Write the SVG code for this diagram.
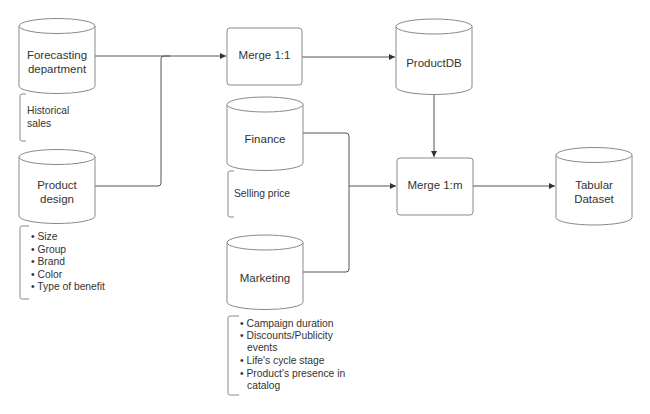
<svg xmlns="http://www.w3.org/2000/svg" width="650" height="414" viewBox="0 0 650 414">
<defs>
<style>
.shape{fill:#ffffff;stroke:#8a8a8a;stroke-width:1}
.br{fill:none;stroke:#8a8a8a;stroke-width:1}
.conn{fill:none;stroke:#555555;stroke-width:1}
.lbl{font-family:"Liberation Sans",Arial,sans-serif;font-size:11.5px;fill:#333333;text-anchor:middle}
.note{font-family:"Liberation Sans",Arial,sans-serif;font-size:10.3px;fill:#333333}
</style>
<marker id="arr" viewBox="0 0 10 10" refX="10" refY="5" markerWidth="8" markerHeight="6" markerUnits="userSpaceOnUse" orient="auto">
<path d="M0,0 L10,5 L0,10 Z" fill="#333333"/>
</marker>
</defs>
<rect width="650" height="414" fill="#ffffff"/>

<g id="connectors">
<path class="conn" d="M95,56 H226" marker-end="url(#arr)"/>
<path class="conn" d="M95,186 H158 Q161,186 161,183 V59 Q161,56 164,56 H170"/>
<path class="conn" d="M302,57 H395" marker-end="url(#arr)"/>
<path class="conn" d="M434,94 V157" marker-end="url(#arr)"/>
<path class="conn" d="M303,133 H346 Q349,133 349,136 V186"/>
<path class="conn" d="M303,272 H346 Q349,272 349,269 V186"/>
<path class="conn" d="M349,186 H396" marker-end="url(#arr)"/>
<path class="conn" d="M473,186 H555" marker-end="url(#arr)"/>
</g>

<g id="forecasting">
<path class="shape" d="M19,26 A38,7.5 0 0 1 95,26 V86 A38,7.5 0 0 1 19,86 Z"/>
<path class="shape" d="M19,26 A38,7.5 0 0 0 95,26" fill="none"/>
<text class="lbl" x="57" y="59">Forecasting</text>
<text class="lbl" x="57" y="73">department</text>
</g>

<g id="historical-note">
<path class="br" d="M26,94 H22 Q20,94 20,96 V139 Q20,141 22,141 H26"/>
<text class="note" x="27" y="114">Historical</text>
<text class="note" x="27" y="127">sales</text>
</g>

<g id="product-design">
<path class="shape" d="M19,157 A38,7.5 0 0 1 95,157 V216 A38,7.5 0 0 1 19,216 Z"/>
<path class="shape" d="M19,157 A38,7.5 0 0 0 95,157" fill="none"/>
<text class="lbl" x="57" y="189">Product</text>
<text class="lbl" x="57" y="203">design</text>
</g>

<g id="product-note">
<path class="br" d="M29,226 H22 Q20,226 20,228 V297 Q20,299 22,299 H29"/>
<text class="note" x="31" y="240">• Size</text>
<text class="note" x="31" y="252.5">• Group</text>
<text class="note" x="31" y="265">• Brand</text>
<text class="note" x="31" y="277.5">• Color</text>
<text class="note" x="31" y="290">• Type of benefit</text>
</g>

<g id="merge11">
<rect class="shape" x="227" y="28" width="75" height="57" rx="3"/>
<text class="lbl" x="264.5" y="59">Merge 1:1</text>
</g>

<g id="finance">
<path class="shape" d="M227,104.5 A38,7.5 0 0 1 303,104.5 V163 A38,7.5 0 0 1 227,163 Z"/>
<path class="shape" d="M227,104.5 A38,7.5 0 0 0 303,104.5" fill="none"/>
<text class="lbl" x="265" y="143">Finance</text>
</g>

<g id="finance-note">
<path class="br" d="M234,171 H230 Q228,171 228,173 V215 Q228,217 230,217 H234"/>
<text class="note" x="234" y="197">Selling price</text>
</g>

<g id="marketing">
<path class="shape" d="M227,242.5 A38,7.5 0 0 1 303,242.5 V302 A38,7.5 0 0 1 227,302 Z"/>
<path class="shape" d="M227,242.5 A38,7.5 0 0 0 303,242.5" fill="none"/>
<text class="lbl" x="265" y="282">Marketing</text>
</g>

<g id="marketing-note">
<path class="br" d="M239,316 H230 Q228,316 228,318 V393 Q228,395 230,395 H239"/>
<text class="note" x="240" y="326.5">• Campaign duration</text>
<text class="note" x="240" y="339">• Discounts/Publicity</text>
<text class="note" x="247" y="351">events</text>
<text class="note" x="240" y="364">• Life's cycle stage</text>
<text class="note" x="240" y="376.5">• Product's presence in</text>
<text class="note" x="247" y="389">catalog</text>
</g>

<g id="productdb">
<path class="shape" d="M396,26.5 A38,7.5 0 0 1 472,26.5 V87 A38,7.5 0 0 1 396,87 Z"/>
<path class="shape" d="M396,26.5 A38,7.5 0 0 0 472,26.5" fill="none"/>
<text class="lbl" x="434" y="67">ProductDB</text>
</g>

<g id="merge1m">
<rect class="shape" x="397" y="158" width="76" height="57" rx="3"/>
<text class="lbl" x="435" y="189">Merge 1:m</text>
</g>

<g id="tabular">
<path class="shape" d="M556,155 A38,7.5 0 0 1 632,155 V217.5 A38,7.5 0 0 1 556,217.5 Z"/>
<path class="shape" d="M556,155 A38,7.5 0 0 0 632,155" fill="none"/>
<text class="lbl" x="594" y="189">Tabular</text>
<text class="lbl" x="594" y="203">Dataset</text>
</g>
</svg>
